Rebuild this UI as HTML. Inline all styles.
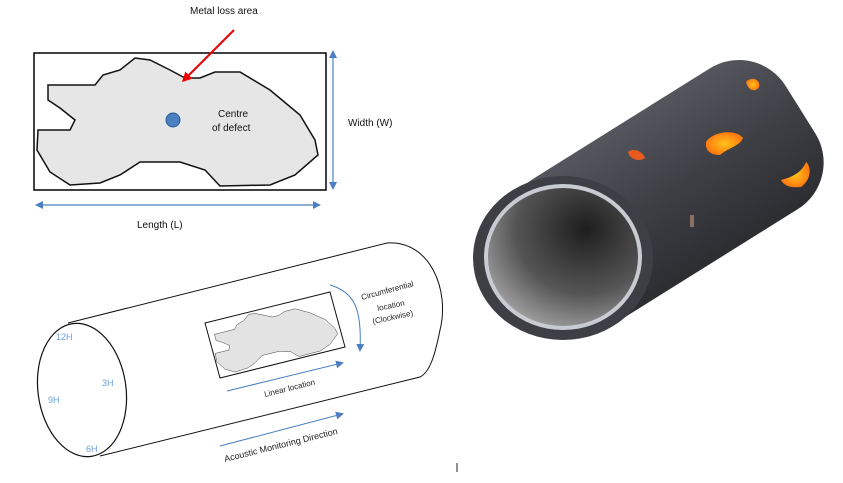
<!DOCTYPE html>
<html><head><meta charset="utf-8"><style>
html,body{margin:0;padding:0;background:#fff;width:843px;height:483px;overflow:hidden}
text{font-family:"Liberation Sans",sans-serif}
</style></head><body>
<svg width="843" height="483" viewBox="0 0 843 483" xmlns="http://www.w3.org/2000/svg">
<defs>
<marker id="ab" markerWidth="8" markerHeight="8" refX="6" refY="4" orient="auto" markerUnits="userSpaceOnUse"><path d="M0,0 L8,4 L0,8 Z" fill="#4a7fc1"/></marker>
<marker id="ab2" markerWidth="8" markerHeight="8" refX="2" refY="4" orient="auto" markerUnits="userSpaceOnUse"><path d="M8,0 L0,4 L8,8 Z" fill="#4a7fc1"/></marker>
<marker id="ar" markerWidth="10" markerHeight="10" refX="7" refY="5" orient="auto" markerUnits="userSpaceOnUse"><path d="M0,0 L10,5 L0,10 Z" fill="#e00"/></marker>
<radialGradient id="inner" cx="0.65" cy="0.3" r="0.85"><stop offset="0" stop-color="#1e1e1e"/><stop offset="0.55" stop-color="#555"/><stop offset="1" stop-color="#b5b5b5"/></radialGradient>
<linearGradient id="body" x1="0" y1="0" x2="0" y2="1"><stop offset="0" stop-color="#55565d"/><stop offset="0.5" stop-color="#3e3f45"/><stop offset="1" stop-color="#2c2d31"/></linearGradient>
<radialGradient id="sp"><stop offset="0" stop-color="#ffc21a"/><stop offset="1" stop-color="#ff7a10"/></radialGradient>
<path id="shape" d="M48,85 L95,85 L103,75 L120,70 L135,58 L150,60 L170,70 L185,78 L200,78 L215,72 L240,72 L270,90 L300,115 L315,140 L318,155 L295,175 L270,185 L220,186 L205,170 L180,162 L140,162 L120,175 L100,183 L70,185 L50,172 L37,150 L38,130 L70,130 L75,120 L60,108 L48,100 Z"/>
</defs>

<!-- top diagram -->
<rect x="34" y="53" width="292" height="137" fill="#fff" stroke="#000" stroke-width="1.5"/>
<use href="#shape" fill="#e6e6e6" stroke="#111" stroke-width="1.5"/>
<circle cx="173" cy="120" r="7" fill="#4a7fc1" stroke="#2a5a9a"/>
<text x="218" y="117" font-size="10" fill="#111">Centre</text>
<text x="212" y="131" font-size="10" fill="#111">of defect</text>
<text x="190" y="14" font-size="10" fill="#111">Metal loss area</text>
<line x1="234" y1="30" x2="184" y2="80" stroke="#e00" stroke-width="2" marker-end="url(#ar)"/>
<line x1="333" y1="52" x2="333" y2="188" stroke="#4a7fc1" stroke-width="1.2" marker-start="url(#ab2)" marker-end="url(#ab)"/>
<text x="348" y="126" font-size="10" fill="#111">Width (W)</text>
<line x1="37" y1="205" x2="319" y2="205" stroke="#4a7fc1" stroke-width="1.2" marker-start="url(#ab2)" marker-end="url(#ab)"/>
<text x="137" y="228" font-size="10" fill="#111">Length (L)</text>

<!-- bottom cylinder -->
<path d="M68,323 L387,243 C430,240 450,290 440,330 C435,355 430,372 420,377 L100,456" fill="none" stroke="#111" stroke-width="1"/>
<ellipse cx="82" cy="390" rx="44" ry="67" fill="none" stroke="#111" stroke-width="1.2" transform="rotate(-8 82 390)"/>
<text x="56" y="340" font-size="9" fill="#6a9fd8">12H</text>
<text x="102" y="386" font-size="9" fill="#6a9fd8">3H</text>
<text x="48" y="403" font-size="9" fill="#6a9fd8">9H</text>
<text x="86" y="452" font-size="9" fill="#6a9fd8">6H</text>
<polygon points="205,323 330,292 345,347 220,378" fill="none" stroke="#111" stroke-width="1"/>
<g transform="translate(205,323) matrix(0.428,-0.106,0.109,0.401,0,0) translate(-34,-53)">
<use href="#shape" fill="#e3e3e3" stroke="#333" stroke-width="1" vector-effect="non-scaling-stroke"/>
</g>
<path d="M330,285 C355,292 362,310 360,350" fill="none" stroke="#4a7fc1" stroke-width="1" marker-end="url(#ab)"/>
<text font-size="8" fill="#222" transform="translate(362,300) rotate(-15)">Circumferential</text>
<text font-size="8" fill="#222" transform="translate(378,311) rotate(-12)">location</text>
<text font-size="8" fill="#222" transform="translate(373,324) rotate(-12)">(Clockwise)</text>
<line x1="227" y1="391" x2="342" y2="363" stroke="#4a7fc1" stroke-width="1" marker-end="url(#ab)"/>
<text font-size="8" fill="#222" transform="translate(265,397) rotate(-14)">Linear location</text>
<line x1="220" y1="446" x2="342" y2="414" stroke="#4a7fc1" stroke-width="1" marker-end="url(#ab)"/>
<text font-size="9" fill="#222" transform="translate(225,462) rotate(-14)">Acoustic Monitoring Direction</text>
<line x1="457" y1="463" x2="457" y2="472" stroke="#222" stroke-width="1"/>

<!-- 3D pipe -->
<g transform="rotate(-32 563 258)">
<rect x="525" y="175" width="318" height="166" rx="55" fill="url(#body)"/>
</g>
<ellipse cx="563" cy="258" rx="90" ry="82" fill="#3e3f45"/>
<ellipse cx="563" cy="257" rx="79" ry="73" fill="#c8ccd2"/>
<ellipse cx="563" cy="257" rx="75" ry="69" fill="url(#inner)"/>
<path d="M746,82 C751,76 761,79 759,87 C756,92 749,92 746,82 Z" fill="url(#sp)"/>
<path d="M706,142 C712,132 735,128 743,138 C740,146 728,148 720,155 C710,155 705,150 706,142 Z" fill="url(#sp)"/>
<path d="M628,152 C632,148 642,150 645,158 C640,162 630,160 628,152 Z" fill="#e85a20"/>
<path d="M781,180 C793,177 802,172 806,162 C812,167 811,180 801,187 C791,188 784,186 781,180 Z" fill="url(#sp)"/>
<rect x="690" y="215" width="4" height="12" fill="#8a7060"/>
</svg>
</body></html>
